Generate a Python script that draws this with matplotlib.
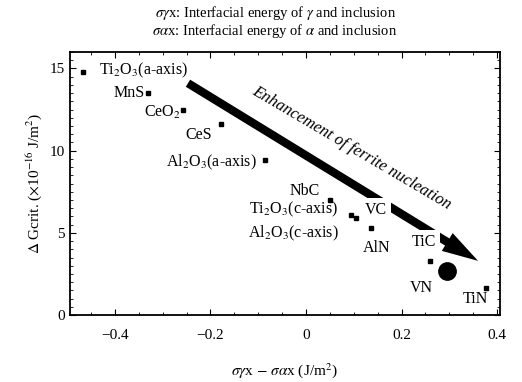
import numpy as np
import matplotlib
matplotlib.use("Agg")
import matplotlib.pyplot as plt
from matplotlib.ticker import MultipleLocator

plt.rcParams['font.family'] = ['Liberation Serif', 'DejaVu Serif']
plt.rcParams['mathtext.fontset'] = 'stix'

# data
names = ['Ti2O3(a-axis)', 'MnS', 'CeO2', 'CeS', 'Al2O3(a-axis)', 'NbC',
         'Ti2O3(c-axis)', 'Al2O3(c-axis)', 'AlN', 'TiC', 'TiN']
dx = [-0.466, -0.330, -0.258, -0.177, -0.085, 0.051, 0.095, 0.104, 0.135, 0.259, 0.377]
dg = [14.76, 13.50, 12.50, 11.60, 9.45, 7.00, 6.10, 5.90, 5.30, 3.30, 1.68]
vn_x, vn_y = 0.296, 2.70

# label text and positions (ha)
labels = [
    (r'Ti$_2$O$_3$(a-axis)', -0.433, 14.88, 'left'),
    ('MnS', -0.338, 13.50, 'right'),
    (r'CeO$_2$', -0.340, 12.30, 'left'),
    ('CeS', -0.253, 10.95, 'left'),
    (r'Al$_2$O$_3$(a-axis)', -0.294, 9.30, 'left'),
    ('NbC', -0.035, 7.56, 'left'),
    (r'Ti$_2$O$_3$(c-axis)', 0.068, 6.40, 'right'),
    (r'Al$_2$O$_3$(c-axis)', 0.068, 5.00, 'right'),
    ('AlN', 0.118, 4.08, 'left'),
    ('VN', 0.218, 1.68, 'left'),
    ('TiN', 0.327, 0.96, 'left'),
]
boxed = [('VC', 0.124, 6.40), ('TiC', 0.222, 4.45)]

fig = plt.figure(figsize=(5.22, 3.82), dpi=100)
ax = fig.add_axes([0.134, 0.175, 0.823, 0.689])

ax.plot(dx, dg, 's', color='k', markersize=3)
ax.plot(vn_x, vn_y, 'o', color='k', markersize=12.5)

# big arrow
ax.annotate('', xy=(0.36, 3.3), xytext=(-0.247, 14.1),
            arrowprops=dict(arrowstyle='simple,head_length=2.6,head_width=1.5,tail_width=0.6',
                            lw=0, fc='k', ec='none', mutation_scale=10,
                            shrinkA=0, shrinkB=0), zorder=2)
ax.text(0.095, 10.15, 'Enhancement of ferrite nucleation', rotation=-30.5,
        rotation_mode='anchor', ha='center', va='center', fontsize=12,
        style='italic')

for t, x, y, ha in labels:
    ax.text(x, y, t, ha=ha, va='center', fontsize=11.5)
for t, x, y in boxed:
    ax.text(x, y, t, ha='left', va='center', fontsize=11.5, zorder=5,
            bbox=dict(facecolor='white', edgecolor='none', pad=2.5))

ax.set_xlim(-0.494, 0.405)
ax.set_ylim(0, 16.0)
ax.xaxis.set_major_locator(MultipleLocator(0.2))
ax.xaxis.set_minor_locator(MultipleLocator(0.05))
ax.yaxis.set_major_locator(MultipleLocator(5))
ax.yaxis.set_minor_locator(MultipleLocator(0.5))
ax.set_xticks([-0.4, -0.2, 0, 0.2, 0.4])
ax.set_xticklabels(['\u22120.4', '\u22120.2', '0', '0.2', '0.4'])
ax.tick_params(which='both', direction='in', top=True, right=True, labelsize=11)
ax.tick_params(which='major', length=4)
ax.tick_params(which='minor', length=2)
ax.tick_params(axis='x', pad=10)
for s in ax.spines.values():
    s.set_linewidth(1.3)

ax.set_xlabel(r'$\sigma\gamma$x $-$ $\sigma\alpha$x (J/m$^2$)', fontsize=11, labelpad=14)
ax.set_ylabel(r'$\Delta$ Gcrit. ($\times$10$^{-16}$ J/m$^2$)', fontsize=11)

fig.text(0.527, 0.965, r'$\sigma\gamma$x: Interfacial energy of $\gamma$ and inclusion',
         ha='center', va='center', fontsize=10.5)
fig.text(0.527, 0.92, r'$\sigma\alpha$x: Interfacial energy of $\alpha$ and inclusion',
         ha='center', va='center', fontsize=10.5)

fig.savefig('out.png', dpi=100)
